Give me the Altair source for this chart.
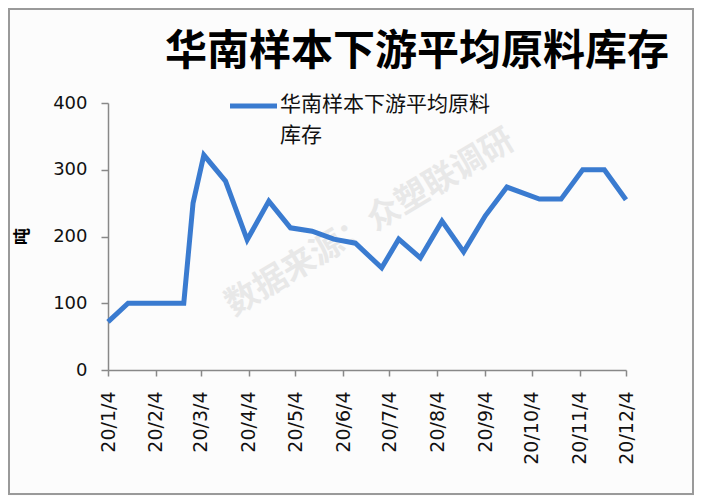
import altair as alt
import pandas as pd

# ---- data ----
dates = ["2020-01-04", "2020-01-17", "2020-02-22", "2020-02-28", "2020-03-06",
         "2020-03-20", "2020-04-03", "2020-04-17", "2020-05-01", "2020-05-15",
         "2020-05-29", "2020-06-12", "2020-06-29", "2020-07-10", "2020-07-24",
         "2020-08-07", "2020-08-21", "2020-09-04", "2020-09-18", "2020-10-09",
         "2020-10-23", "2020-11-06", "2020-11-20", "2020-12-04"]
values = [72, 100, 100, 250, 322, 283, 195, 253, 213, 208, 196, 190, 153, 196,
          168, 223, 177, 231, 274, 256, 256, 300, 300, 255]
tick_months = [1, 2, 3, 4, 5, 6, 7, 8, 9, 10, 11, 12]
y_ticks = [0, 100, 200, 300, 400]
chart_title = "华南样本下游平均原料库存"
legend_lines = ["华南样本下游平均原料", "库存"]
y_title = "吨"
watermark = "数据来源：众塑联调研"

LINE_COLOR = "#3a7bd0"
FONT_CJK = "Noto Sans CJK SC"

df = pd.DataFrame({"date": pd.to_datetime(dates), "value": values})

x_enc = alt.X(
    "date:T",
    scale=alt.Scale(domain=[alt.DateTime(year=2020, month=1, date=4),
                            alt.DateTime(year=2020, month=12, date=4)]),
    axis=alt.Axis(
        values=[alt.DateTime(year=2020, month=m, date=4) for m in tick_months],
        format="%y/%-m/%-d", labelAngle=270, labelPadding=15, tickSize=6,
        labelFontSize=19, labelFont="DejaVu Sans", labelColor="#111",
        domainColor="#888", tickColor="#888", domainWidth=1.5, tickWidth=1.5,
        grid=False, title=None, labelOverlap=False,
    ),
)
y_enc = alt.Y(
    "value:Q",
    scale=alt.Scale(domain=[0, 400], nice=False),
    axis=alt.Axis(
        values=y_ticks, labelFontSize=18, labelFont="DejaVu Sans", labelColor="#111",
        labelPadding=14, tickSize=7, domainColor="#888", tickColor="#888",
        domainWidth=1.5, tickWidth=1.5, grid=False,
        title=y_title, titleFont=FONT_CJK, titleFontSize=17, titleFontWeight="bold",
        titleColor="#000", titleAngle=270, titleX=-86, titleY=133,
        titleAlign="center", titleBaseline="middle",
    ),
)

base = alt.Chart(df)

line = base.mark_line(color=LINE_COLOR, strokeWidth=5, strokeJoin="miter").encode(
    x=x_enc, y=y_enc
)

wm = alt.Chart(pd.DataFrame({"t": [watermark]})).mark_text(
    font=FONT_CJK, fontSize=33, fontWeight="bold", color="#e8e8e8", angle=329,
    align="center", baseline="middle",
).encode(x=alt.value(262), y=alt.value(120), text="t:N")

title_text = alt.Chart(pd.DataFrame({"t": [chart_title]})).mark_text(
    font=FONT_CJK, fontSize=42, fontWeight="bold", color="#000",
    align="left", baseline="middle",
).encode(x=alt.value(57), y=alt.value(-51), text="t:N")

leg_line = alt.Chart(pd.DataFrame({"t": [legend_lines[0]]})).mark_rule(
    color=LINE_COLOR, strokeWidth=5
).encode(x=alt.value(122), x2=alt.value(169), y=alt.value(3))

leg_text1 = alt.Chart(pd.DataFrame({"t": [legend_lines[0]]})).mark_text(
    font=FONT_CJK, fontSize=21, color="#111", align="left", baseline="middle",
).encode(x=alt.value(172), y=alt.value(2), text="t:N")
leg_text2 = alt.Chart(pd.DataFrame({"t": [legend_lines[1]]})).mark_text(
    font=FONT_CJK, fontSize=21, color="#111", align="left", baseline="middle",
).encode(x=alt.value(172), y=alt.value(33), text="t:N")

border = alt.Chart(pd.DataFrame({"t": [0]})).mark_rect(
    fill=None, stroke="#9a9a9a", strokeWidth=2
).encode(x=alt.value(-99), x2=alt.value(585), y=alt.value(-94), y2=alt.value(391))

chart = alt.layer(
    wm, line, leg_line, leg_text1, leg_text2, title_text, border
).properties(
    width=518, height=267,
    padding={"left": 100, "top": 95, "right": 68, "bottom": 126},
    autosize=alt.AutoSizeParams(type="none"),
    background="#fcfcfc",
).configure_view(stroke=None)

chart.save("out.html", embed_options={"renderer": "svg", "actions": False})
